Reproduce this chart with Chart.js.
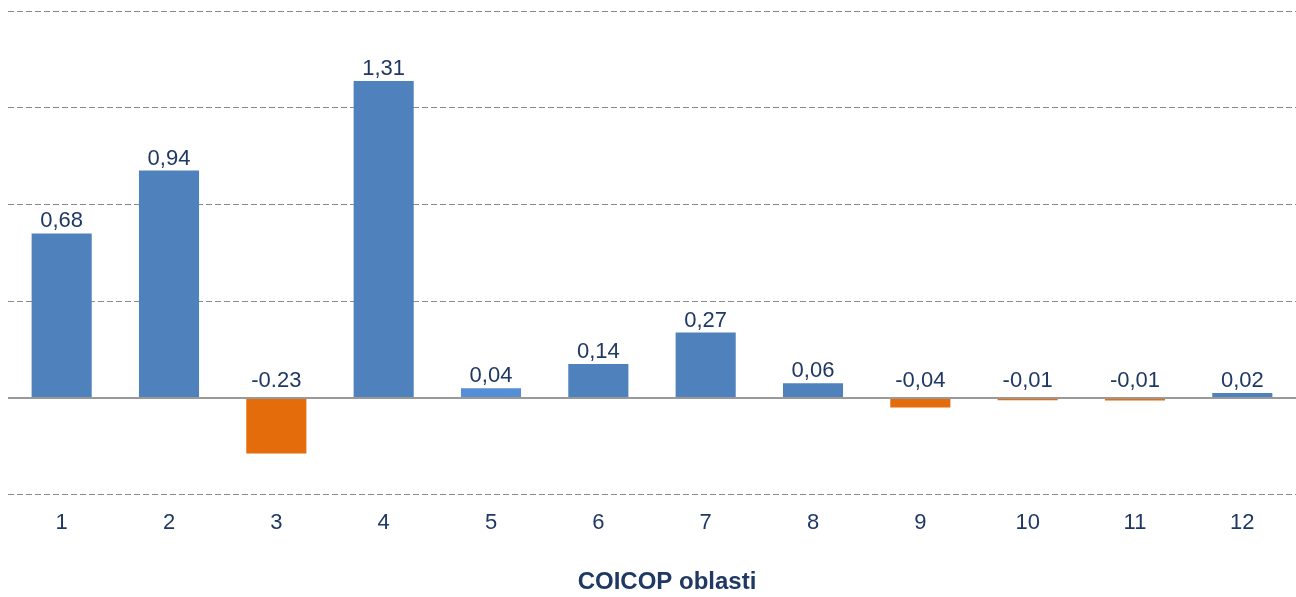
<!DOCTYPE html>
<html>
<head>
<meta charset="utf-8">
<script src="https://cdn.jsdelivr.net/npm/chart.js@4"></script>
<style>
  html,body{margin:0;padding:0;background:#fff;}
  #wrap{width:1296px;height:597px;position:relative;}
</style>
</head>
<body>
<div id="wrap"><canvas id="chart"></canvas></div>
<script>
// COICOP groups and their contributions
const categories = ['1','2','3','4','5','6','7','8','9','10','11','12'];
const values = [0.68, 0.94, -0.23, 1.31, 0.04, 0.14, 0.27, 0.06, -0.04, -0.01, -0.011, 0.02];
const valueLabels = ['0,68','0,94','-0.23','1,31','0,04','0,14','0,27','0,06','-0,04','-0,01','-0,01','0,02'];
const yTicks = [-0.4, 0, 0.4, 0.8, 1.2, 1.6];
const axisTitle = 'COICOP oblasti';

const navy = '#1f3864';
const fontFamily = '"Liberation Sans", Arial, sans-serif';
const barColors = values.map((v,i)=> v < 0 ? '#e46c0a' : (i === 4 ? '#558ed5' : '#4f81bd'));

// zero line, value labels and the axis title
const extras = {
  id: 'extras',
  afterDatasetsDraw(chart){
    const {ctx, chartArea, scales:{x, y}} = chart;
    const y0 = y.getPixelForValue(0);
    ctx.save();
    ctx.strokeStyle = '#999999';
    ctx.lineWidth = 2;
    ctx.beginPath();
    ctx.moveTo(chartArea.left, y0);
    ctx.lineTo(chartArea.right, y0);
    ctx.stroke();

    ctx.fillStyle = navy;
    ctx.font = '22px ' + fontFamily;
    ctx.textAlign = 'center';
    ctx.textBaseline = 'alphabetic';
    chart.getDatasetMeta(0).data.forEach((bar,i)=>{
      const base = values[i] < 0 ? y0 - 11 : bar.y - 6;
      ctx.fillText(valueLabels[i], bar.x, base);
    });

    ctx.font = 'bold 24px ' + fontFamily;
    ctx.textBaseline = 'middle';
    ctx.fillText(axisTitle, (x.left + x.right) / 2 + 15, chart.height - 15);
    ctx.restore();
  }
};

new Chart(document.getElementById('chart'), {
  type: 'bar',
  data: {
    labels: categories,
    datasets: [{
      data: values,
      backgroundColor: barColors,
      borderWidth: 0,
      categoryPercentage: 1,
      barPercentage: 0.56
    }]
  },
  options: {
    responsive: true,
    maintainAspectRatio: false,
    animation: false,
    layout: {padding: {top: 11, left: 8, right: 0, bottom: 46}},
    plugins: {legend: {display: false}, tooltip: {enabled: false}},
    scales: {
      x: {
        grid: {display: false, drawTicks: false},
        border: {display: false},
        ticks: {color: navy, padding: 15, font: {family: fontFamily, size: 22}}
      },
      y: {
        min: yTicks[0],
        max: yTicks[yTicks.length-1],
        afterBuildTicks: s => { s.ticks = yTicks.map(v=>({value:v})); },
        ticks: {display: false},
        grid: {
          drawTicks: false,
          color: ctx => ctx.tick && ctx.tick.value === 0 ? 'rgba(0,0,0,0)' : '#8a8a8a',
          lineWidth: 1
        },
        border: {display: false, dash: [6,3]}
      }
    }
  },
  plugins: [extras]
});
</script>
</body>
</html>
